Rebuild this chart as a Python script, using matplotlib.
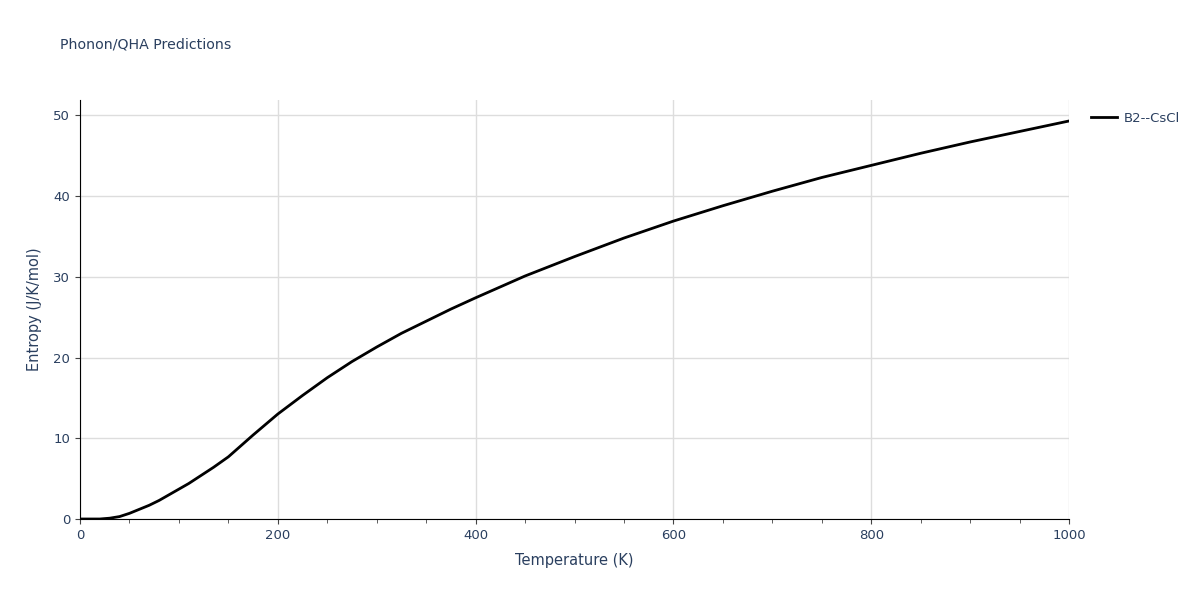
import matplotlib
matplotlib.use("Agg")
import matplotlib.pyplot as plt
from matplotlib.ticker import MultipleLocator

temperature = [0, 20, 30, 40, 50, 60, 70, 80, 90, 100, 110, 120, 135, 150, 175, 200, 225, 250, 275, 300, 325, 350, 375, 400, 450, 500, 550, 600, 650, 700, 750, 800, 850, 900, 950, 1000]
entropy = [0, 0.0, 0.1, 0.3, 0.7, 1.2, 1.7, 2.3, 3.0, 3.7, 4.4, 5.2, 6.4, 7.7, 10.4, 13.0, 15.3, 17.5, 19.5, 21.3, 23.0, 24.5, 26.0, 27.4, 30.1, 32.5, 34.8, 36.9, 38.8, 40.6, 42.3, 43.8, 45.3, 46.7, 48.0, 49.3]

fig = plt.figure(figsize=(12, 6), dpi=100)
ax = fig.add_axes([80/1200, 81/600, 989/1200, 419/600])
ax.plot(temperature, entropy, color="black", lw=2, label="B2--CsCl")
ax.set_xlim(0, 1000)
ax.set_ylim(0, 51.9)
ax.xaxis.set_major_locator(MultipleLocator(200))
ax.xaxis.set_minor_locator(MultipleLocator(50))
ax.yaxis.set_major_locator(MultipleLocator(10))
ax.grid(True, color="#dddddd", lw=1)
ax.set_axisbelow(True)
for s in ["top", "right"]:
    ax.spines[s].set_visible(False)
for s in ["left", "bottom"]:
    ax.spines[s].set_color("black")
tc = "#2a3f5f"
ax.tick_params(axis="both", colors="#444444", labelcolor=tc, labelsize=9.5)
ax.tick_params(axis="x", which="minor", length=3, colors="#444444")
ax.set_xlabel("Temperature (K)", color=tc, fontsize=10.5, labelpad=8)
ax.set_ylabel("Entropy (J/K/mol)", color=tc, fontsize=10.5, labelpad=8)
fig.text(60/1200, 1-45/600, "Phonon/QHA Predictions", color=tc, fontsize=10.2, va="center")
ax.legend(loc="upper left", bbox_to_anchor=(1.01, 1.0), frameon=False, fontsize=9.5, labelcolor=tc, handlelength=2.0, handletextpad=0.5)
fig.savefig("out.png", dpi=100)
